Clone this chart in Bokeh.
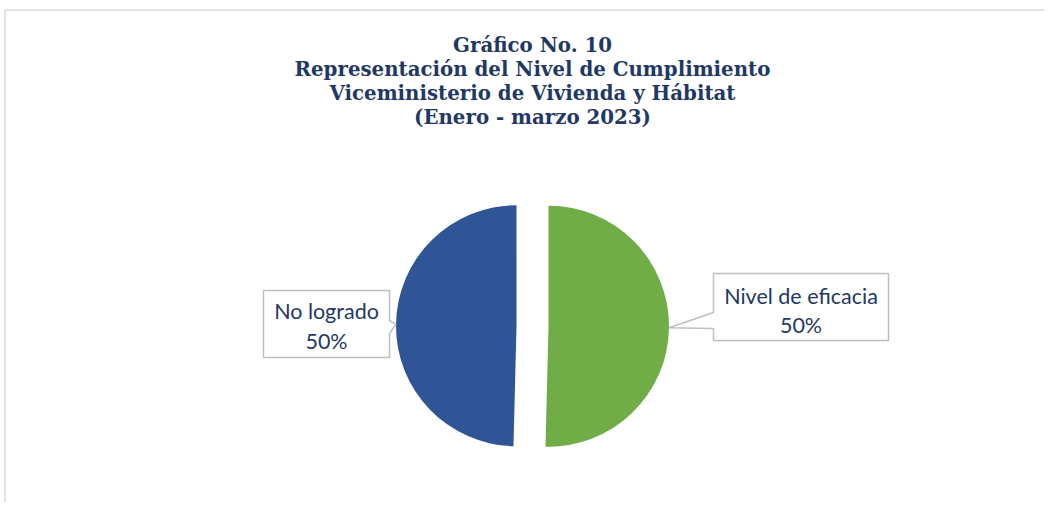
import numpy as np
from bokeh.plotting import figure
from bokeh.models import Range1d, ColumnDataSource
from bokeh.core.properties import value
from bokeh.embed import file_html
from bokeh.resources import INLINE

# ---- data ----
categories = ["Nivel de eficacia", "No logrado"]
values = [50.4, 49.6]
pct_labels = ["50%", "50%"]
colors = ["#70AD47", "#2F5597"]
title_lines = [
    "Gráfico No. 10",
    "Representación del Nivel de Cumplimiento",
    "Viceministerio de Vivienda y Hábitat",
    "(Enero - marzo 2023)",
]

# ---- layout (page pixel helpers) ----
W, H = 1044, 502
def X(px):
    return px
def Y(py):
    return H - py

p = figure(width=W, height=H, output_backend="svg", toolbar_location=None,
           x_range=Range1d(0, W), y_range=Range1d(0, H), min_border=0)
p.axis.visible = False
p.xgrid.visible = False
p.ygrid.visible = False
p.outline_line_color = None
p.background_fill_color = "white"
p.border_fill_color = "white"

# chart area border (top & left visible)
p.line(x=[X(4.5), X(1052)], y=[Y(9.5), Y(9.5)], line_color="#D9D9D9", line_width=1.5)
p.line(x=[X(4.5), X(4.5)], y=[Y(9.5), Y(510)], line_color="#D9D9D9", line_width=1.5)

# title
TITLE_COLOR = "#1F3864"
ty = [44, 68, 92, 116]
p.text(x=[X(532)] * 4, y=[Y(v) for v in ty], text=title_lines,
       text_font=value("DejaVu Serif"), text_font_style="bold",
       text_font_size="19.8px", text_color=TITLE_COLOR,
       text_align="center", text_baseline="middle")

# pie
CX, CY = X(532), Y(325.5)
R = 120.5
EXPL = 16
vals = np.array(values, dtype=float)
frac = vals / vals.sum()
cum = np.concatenate([[0], np.cumsum(frac)[:-1]])
start = np.pi / 2 - cum * 2 * np.pi
end = start - frac * 2 * np.pi
mid = (start + end) / 2
cxs = CX + EXPL * np.cos(mid)
cys = CY + EXPL * np.sin(mid)

src = ColumnDataSource(dict(x=cxs, y=cys, start=start, end=end, color=colors))
p.wedge(x="x", y="y", radius=R, start_angle="start", end_angle="end",
        direction="clock", fill_color="color", line_color=None, source=src)

# callouts
TEXT_COLOR = "#1F3864"
BOX_LINE = "#BFBFBF"
tips = [(cxs[i] + R * np.cos(mid[i]), cys[i] + R * np.sin(mid[i])) for i in range(2)]

# right box (Nivel de eficacia)
bx0, bx1, by0, by1 = X(713), X(888), Y(273), Y(340)
tx, tyy = tips[0]
p.patch(x=[bx0, bx1, bx1, bx0, bx0, tx, bx0],
        y=[by0, by0, by1, by1, Y(328), tyy, Y(312)],
        fill_color="white", line_color=BOX_LINE, line_width=1.5)
p.text(x=[(bx0 + bx1) / 2] * 2, y=[Y(295), Y(324)],
       text=[categories[0], pct_labels[0]], text_font=value("Lato"),
       text_font_size="21.5px", text_color=TEXT_COLOR,
       text_align="center", text_baseline="middle")

# left box (No logrado)
lx0, lx1, ly0, ly1 = X(263), X(389), Y(290), Y(357)
tx, tyy = tips[1]
p.patch(x=[lx0, lx1, lx1, tx, lx1, lx1, lx0],
        y=[ly0, ly0, Y(320), tyy, Y(333), ly1, ly1],
        fill_color="white", line_color=BOX_LINE, line_width=1.5)
p.text(x=[(lx0 + lx1) / 2] * 2, y=[Y(310), Y(340)],
       text=[categories[1], pct_labels[1]], text_font=value("Lato"),
       text_font_size="21.5px", text_color=TEXT_COLOR,
       text_align="center", text_baseline="middle")

open("out.html", "w").write(file_html(p, INLINE))
